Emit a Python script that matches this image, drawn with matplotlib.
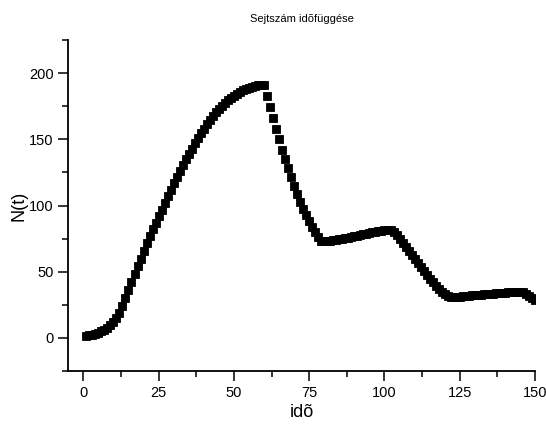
import numpy as np
import matplotlib
matplotlib.use('Agg')
import matplotlib.pyplot as plt
from matplotlib.ticker import MultipleLocator

plt.rcParams['font.family'] = ['Liberation Sans', 'DejaVu Sans']

# time steps (1..150) and cell counts
ido = list(range(1, 151))
n_t = [
    1.5, 2, 2.5, 3.2, 4, 5, 6.2, 7.6, 9.5, 12,
    15, 19, 24, 30, 36, 42, 48, 54, 60, 66,
    71.5, 77, 82, 87, 92, 97, 102, 107, 112, 117,
    121.5, 126, 130.5, 135, 139, 143, 147, 151, 154.5, 158,
    161.5, 164.5, 167.5, 170.5, 173, 175.5, 177.5, 179.5, 181.5, 183,
    184.5, 186, 187, 188, 189, 189.8, 190.4, 190.9, 191.2, 191.3,
    183, 174.5, 166, 158, 150, 142, 135, 128, 121.5, 115,
    109, 103, 97.5, 92.5, 88, 84, 80, 76.5, 73.5, 73,
    73.2, 73.5, 73.8, 74.2, 74.6, 75, 75.4, 75.8, 76.3, 76.8,
    77.3, 77.8, 78.3, 78.8, 79.3, 79.8, 80.2, 80.6, 81, 81.3,
    81.5, 81.5, 80, 77.5, 74.5, 71.5, 68.5, 65.5, 62.5, 59.5,
    56.5, 53.5, 50.5, 47.5, 44.7, 42, 39.5, 37.2, 35, 33.2,
    31.8, 31, 31, 31.1, 31.3, 31.5, 31.7, 31.9, 32.1, 32.3,
    32.5, 32.7, 32.9, 33.1, 33.3, 33.5, 33.7, 33.9, 34.1, 34.3,
    34.5, 34.7, 34.8, 34.9, 35, 34.8, 33.5, 31.8, 30.2, 29,
]

fig = plt.figure(figsize=(5.46, 4.26), dpi=100)
ax = fig.add_axes([0.125, 0.129, 0.855, 0.777])

ax.plot(ido, n_t, linestyle='none', marker='s', markersize=5.5,
        color='black', markeredgewidth=0.6, markeredgecolor='black')

ax.set_xlim(-5, 150)
ax.set_ylim(-25, 225)
ax.xaxis.set_major_locator(MultipleLocator(25))
ax.xaxis.set_minor_locator(MultipleLocator(12.5))
ax.yaxis.set_major_locator(MultipleLocator(50))
ax.yaxis.set_minor_locator(MultipleLocator(25))

for side in ['top', 'right']:
    ax.spines[side].set_visible(False)
for side in ['left', 'bottom']:
    ax.spines[side].set_linewidth(1.3)

ax.tick_params(which='major', direction='out', length=7, width=1.1, labelsize=10.5)
ax.tick_params(which='minor', direction='out', length=4, width=1.1)

ax.set_title('Sejtszám idõfüggése', fontsize=8, pad=13)
ax.set_xlabel('idõ', fontsize=13, labelpad=3)
ax.set_ylabel('N(t)', fontsize=13, labelpad=1)

fig.savefig('out.png', dpi=100)
